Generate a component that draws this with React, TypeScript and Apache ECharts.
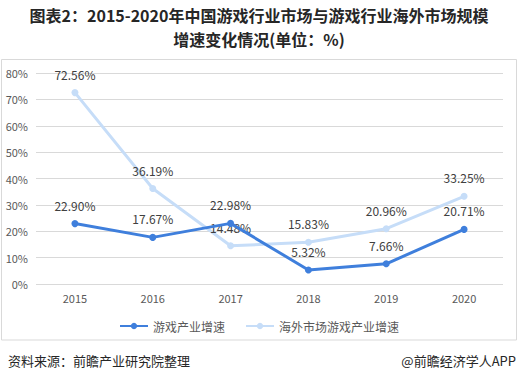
import React, { useEffect, useRef } from "react";
import * as echarts from "echarts";

const categories = ["2015", "2016", "2017", "2018", "2019", "2020"];
const domesticGrowth = [22.9, 17.67, 22.98, 5.32, 7.66, 20.71];
const overseasGrowth = [72.56, 36.19, 14.48, 15.83, 20.96, 33.25];
const seriesNames = ["游戏产业增速", "海外市场游戏产业增速"];
const titleLines = ["图表2：2015-2020年中国游戏行业市场与游戏行业海外市场规模", "增速变化情况(单位：%)"];
const sourceText = "资料来源：前瞻产业研究院整理";
const brandText = "@前瞻经济学人APP";

const FONT = "'Noto Sans CJK SC', 'Noto Sans', sans-serif";

export default function App() {
  const ref = useRef<HTMLDivElement>(null);
  useEffect(() => {
    const chart = echarts.init(ref.current!, undefined, { renderer: "svg" });
    const labelStyle = {
      show: true,
      position: "top" as const,
      distance: 9,
      color: "#404040",
      fontSize: 12,
      fontFamily: FONT,
      formatter: (p: any) => Number(p.value).toFixed(2) + "%",
    };
    chart.setOption({
      animation: false,
      backgroundColor: "#ffffff",
      textStyle: { fontFamily: FONT },
      graphic: [
        {
          type: "rect",
          shape: { x: 1.5, y: 59.5, width: 515, height: 280.5 },
          style: { fill: "none", stroke: "#d9d9d9", lineWidth: 1 },
          z: -1,
        },
        {
          type: "text",
          x: 259,
          y: 15,
          style: {
            text: titleLines[0],
            fill: "#262626",
            font: `bold 16px ${FONT}`,
            textAlign: "center",
            textVerticalAlign: "middle",
          },
        },
        {
          type: "text",
          x: 259,
          y: 39,
          style: {
            text: titleLines[1],
            fill: "#262626",
            font: `bold 16px ${FONT}`,
            textAlign: "center",
            textVerticalAlign: "middle",
          },
        },
        {
          type: "text",
          x: 8,
          y: 360,
          style: {
            text: sourceText,
            fill: "#262626",
            font: `13px ${FONT}`,
            textAlign: "left",
            textVerticalAlign: "middle",
          },
        },
        {
          type: "text",
          x: 516,
          y: 360,
          style: {
            text: brandText,
            fill: "#262626",
            font: `13px ${FONT}`,
            textAlign: "right",
            textVerticalAlign: "middle",
          },
        },
      ],
      grid: { left: 36, right: 15, top: 73, bottom: 96, containLabel: false },
      legend: {
        data: seriesNames,
        top: 315,
        left: "center",
        itemWidth: 28,
        itemHeight: 8,
        itemGap: 20,
        textStyle: { color: "#595959", fontSize: 12, fontFamily: FONT },
      },
      xAxis: {
        type: "category",
        data: categories,
        boundaryGap: true,
        axisLine: { show: false },
        axisTick: { show: false },
        axisLabel: { color: "#595959", fontSize: 11, margin: 8, fontFamily: FONT },
      },
      yAxis: {
        type: "value",
        min: 0,
        max: 80,
        interval: 10,
        axisLine: { show: false },
        axisTick: { show: false },
        axisLabel: {
          color: "#595959",
          fontSize: 11,
          margin: 8,
          fontFamily: FONT,
          formatter: "{value}%",
        },
        splitLine: { lineStyle: { color: "#d9d9d9", width: 1 } },
      },
      series: [
        {
          name: seriesNames[0],
          type: "line",
          data: domesticGrowth,
          symbol: "circle",
          symbolSize: 7,
          color: "#3f7fdc",
          lineStyle: { width: 3, color: "#3f7fdc" },
          itemStyle: { color: "#3f7fdc" },
          label: labelStyle,
          z: 3,
        },
        {
          name: seriesNames[1],
          type: "line",
          data: overseasGrowth,
          symbol: "circle",
          symbolSize: 7,
          color: "#c6ddf8",
          lineStyle: { width: 3, color: "#c6ddf8" },
          itemStyle: { color: "#c6ddf8" },
          label: labelStyle,
          z: 2,
        },
      ],
    });
    return () => chart.dispose();
  }, []);
  return (
    <div
      ref={ref}
      style={{ position: "fixed", left: 0, top: 0, width: 518, height: 380 }}
    />
  );
}
